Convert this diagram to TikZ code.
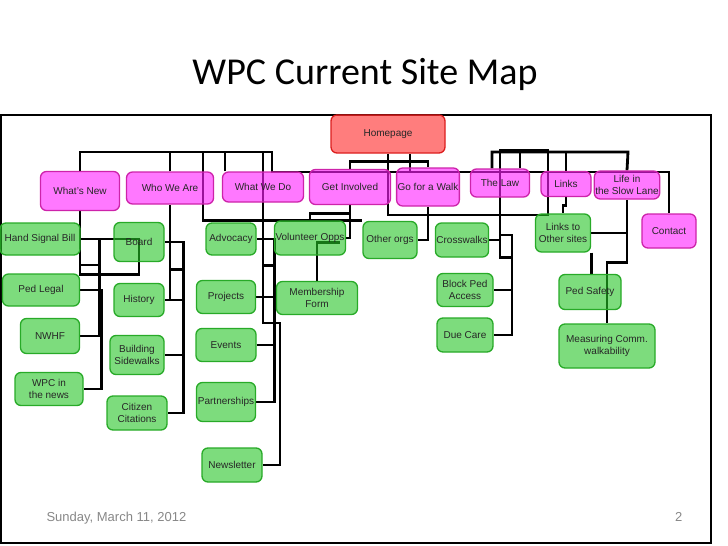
\documentclass[tikz,border=0pt]{standalone}
\usepackage{fontspec}
\setmainfont{Liberation Sans}
\newfontfamily\titlefont{Carlito}
\usetikzlibrary{backgrounds}

\definecolor{pgfill}{RGB}{38,197,38}
\definecolor{pgline}{RGB}{40,170,40}
\definecolor{secfill}{RGB}{255,30,255}
\definecolor{secline}{RGB}{205,35,170}
\definecolor{hpfill}{RGB}{255,38,38}
\definecolor{hpline}{RGB}{220,30,30}
\definecolor{foot}{RGB}{135,135,135}

\begin{document}
\begin{tikzpicture}[x=1pt, y=-1pt,
  box/.style={draw, rounded corners=6pt, line width=1.3pt, inner sep=1pt,
    align=center, font=\fontsize{10}{12}\selectfont, text=black!85,
    fill opacity=0.6, text opacity=1},
  hp/.style={box, fill=hpfill, draw=hpline},
  sec/.style={box, fill=secfill, draw=secline},
  pg/.style={box, fill=pgfill, draw=pgline},
  sz/.style 2 args={minimum width=#1, minimum height=#2},
  wire/.style={line width=2.8pt}]
\useasboundingbox (0,0) rectangle (728,546);

\node[font=\titlefont\fontsize{38}{44}\selectfont, anchor=base] (title) at (365,84)
  {WPC Current Site Map};
\draw[line width=1.2pt] (1,115) rectangle (711,543);

\node[hp, sz={114}{38}] (hp) at (388,134) {Homepage};

\node[sec, sz={79}{39}] (wnew) at (80,191) {What's New};
\node[sec, sz={87}{32}] (who) at (170,188) {Who We Are};
\node[sec, sz={81}{30}] (wdo) at (263,187) {What We Do};
\node[sec, sz={81}{35}] (inv) at (350,187) {Get Involved};
\node[sec, sz={60}{38}] (walk) at (428,187) {Go for a Walk};
\node[sec, sz={59}{28}] (law) at (500,183) {The Law};
\node[sec, sz={50}{25}] (links) at (566,184) {Links};
\node[sec, sz={62}{28}] (slow) at (627,185) {Life in\\the Slow Lane};
\node[sec, sz={54}{34}] (contact) at (669,231) {Contact};

\node[pg, sz={80}{32}] (hsb) at (40,239) {Hand Signal Bill};
\node[pg, sz={77}{32}] (legal) at (41,290) {Ped Legal};
\node[pg, sz={59}{35}] (nwhf) at (50,336) {NWHF};
\node[pg, sz={68}{33}] (wpcnews) at (49,389) {WPC in\\the news};

\node[pg, sz={50}{39}] (board) at (139,242) {Board};
\node[pg, sz={50}{33}] (history) at (139,300) {History};
\node[pg, sz={54}{39}] (bside) at (137,355) {Building\\Sidewalks};
\node[pg, sz={60}{34}] (citizen) at (137,413) {Citizen\\Citations};

\node[pg, sz={50}{32}] (advocacy) at (231,239) {Advocacy};
\node[pg, sz={59}{33}] (projects) at (226,297) {Projects};
\node[pg, sz={60}{33}] (events) at (226,345) {Events};
\node[pg, sz={59}{39}] (partner) at (226,402) {Partnerships};
\node[pg, sz={60}{34}] (newsletter) at (232,465) {Newsletter};

\node[pg, sz={69}{34}] (vol) at (310,238) {Volunteer Opps};
\node[pg, sz={81}{33}] (member) at (317,298) {Membership\\Form};
\node[pg, sz={54}{37}] (other) at (390,240) {Other orgs};

\node[pg, sz={50}{34}] (cross) at (462,240) {Crosswalks};
\node[pg, sz={56}{33}] (block) at (465,290) {Block Ped\\Access};
\node[pg, sz={56}{34}] (duecare) at (465,335) {Due Care};

\node[pg, sz={55}{38}] (lto) at (563,233) {Links to\\Other sites};
\node[pg, sz={62}{35}] (pedsafe) at (590,292) {Ped Safety};
\node[pg, sz={96}{44}] (measure) at (607,346) {Measuring Comm.\\walkability};

\node[anchor=base west, text=foot, font=\fontsize{13}{15}\selectfont] (date)
  at (43,521) {Sunday, March 11, 2012};
\node[anchor=base east, text=foot, font=\fontsize{13}{15}\selectfont] (page)
  at (686,521) {2};

\begin{scope}[on background layer]
\coordinate (busA) at (272,152);
\coordinate (busB) at (669,172);
\coordinate (busC) at (628,152);
\coordinate (busD) at (548,215);
\coordinate (busE) at (203,152);
\coordinate (lawbus) at (512,235);

\draw[wire] (wnew.north) |- (busA) |- (busB) -- (contact.north);
\draw[wire] (who.north) -- ++(0,-20);
\draw[wire] ([xshift=-38pt]wdo.north) -- ++(0,-20);
\draw[wire] (busE) |- (other.north west);
\draw[wire] (wdo.north |- busA) |- (280,323) |- (newsletter.east);

\draw[wire] (hp.south) |- (busD) -- ++(0,-65) -| (law.south);
\draw[wire] (inv.north) |- ([yshift=-8pt]hp.south) -| (walk.north);
\draw[wire] ([xshift=22pt]hp.south) -- ++(0,19);
\draw[wire] ([xshift=-8pt]law.north) |- (busC) -- (slow.north);
\draw[wire] ([xshift=20pt]law.north) -- ++(0,-17);
\draw[wire] (links.north) -- ++(0,-20);

\draw[wire] (law.south) -- ++(0,60) -- ++(12,0);
\draw[wire] (cross.east) -- (cross.east -| law.south);
\draw[wire] (lawbus -| law.south) -- (lawbus) |- (duecare.east);
\draw[wire] (block.east) -- (block.east -| lawbus);

\draw[wire] (links.south) -- ++(0,8) -| (lto.north);
\draw[wire] (lto.east) -| (slow.south);
\draw[wire] (slow.south) -- ++(0,63) -| (measure.north);
\draw[wire] (lto.south east) -- (lto.south east |- pedsafe.north);

\draw[wire] (inv.south) |- (vol.east);
\draw[wire] (vol.north) |- ([yshift=-8pt]inv.south);
\draw[wire] (member.north) |- +(23,-38);
\draw[wire] (walk.south) |- (other.east);

\draw[wire] (wnew.south) -- ++(0,63) -| (board.center) |- (hsb.east);
\draw[wire] (nwhf.east) -| ([xshift=19pt]hsb.east);
\draw[wire] ([yshift=-26pt]hsb.east) -- ++(19,0);
\draw[wire] (legal.east) -- ++(21,0) |- (wpcnews.east);

\draw[wire] (who.south) |- (history.east);
\draw[wire] (board.east) -- ++(19,0) |- (citizen.east);
\draw[wire] (history.east) -- ++(19,0);
\draw[wire] (bside.east) -- ++(19,0);
\draw[wire] ([yshift=-65pt]who.south) -- ++(13,0);

\draw[wire] (advocacy.east) -- ++(18,0) |- (partner.east);
\draw[wire] (projects.east) -- ++(18,0);
\draw[wire] (events.east) -- ++(18,0);
\draw[wire] ([yshift=-63pt]wdo.south) -- ++(11,0);
\end{scope}
\end{tikzpicture}
\end{document}
